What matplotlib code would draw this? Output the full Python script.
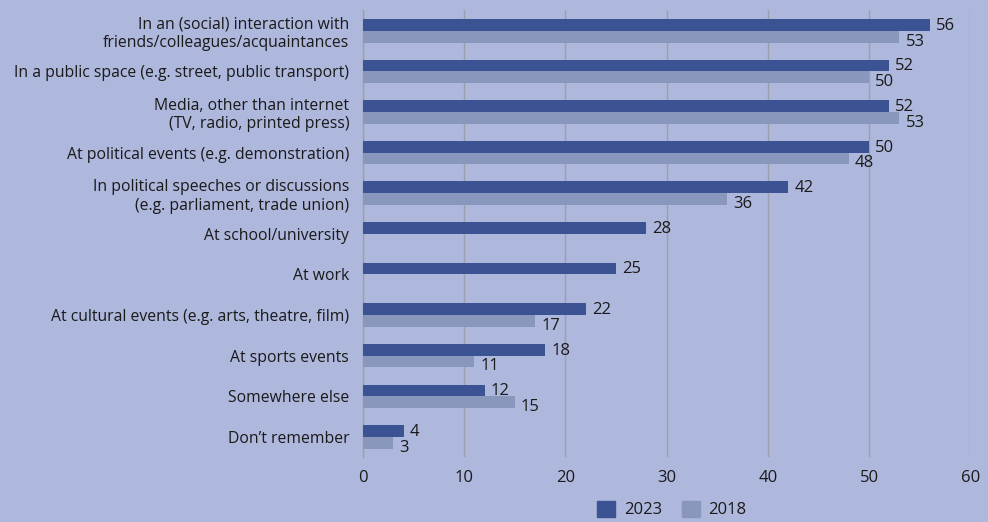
import numpy as np
import matplotlib.pyplot as plt
from matplotlib.patches import Patch

plt.rcParams['font.family'] = ['Open Sans', 'DejaVu Sans']

categories = [
    'In an (social) interaction with\nfriends/colleagues/acquaintances',
    'In a public space (e.g. street, public transport)',
    'Media, other than internet\n(TV, radio, printed press)',
    'At political events (e.g. demonstration)',
    'In political speeches or discussions\n(e.g. parliament, trade union)',
    'At school/university',
    'At work',
    'At cultural events (e.g. arts, theatre, film)',
    'At sports events',
    'Somewhere else',
    "Don\u2019t remember",
]
vals_2023 = [56, 52, 52, 50, 42, 28, 25, 22, 18, 12, 4]
vals_2018 = [53, 50, 53, 48, 36, None, None, 17, 11, 15, 3]

bg = '#aeb7dc'
c23 = '#3c5393'
c18 = '#8a97bd'
grid = '#9c9fae'
txt = '#1a1a1a'

fig = plt.figure(figsize=(9.88, 5.22), dpi=100, facecolor=bg)
ax = fig.add_axes([0.3675, 0.124, 0.6145, 0.856], facecolor=bg)

y = np.arange(len(categories))
h = 0.29
ax.barh(y - h / 2, vals_2023, height=h, color=c23, zorder=3)
for i, v in enumerate(vals_2023):
    ax.text(v + 0.6, i - h / 2 + 0.02, str(v), va='center', ha='left',
            fontsize=12, color=txt, zorder=4)
for i, v in enumerate(vals_2018):
    if v is None:
        continue
    ax.barh(i + h / 2, v, height=h, color=c18, zorder=3)
    ax.text(v + 0.6, i + h / 2 + 0.12, str(v), va='center', ha='left',
            fontsize=12, color=txt, zorder=4)

ax.set_xlim(0, 60)
ax.set_ylim(len(categories) - 0.5, -0.5)
ax.set_xticks(range(0, 61, 10))
ax.set_yticks(y)
ax.set_yticklabels(categories, fontsize=11.3, color=txt, linespacing=1.2)
ax.tick_params(axis='x', length=0, pad=9, labelsize=12, labelcolor=txt)
ax.tick_params(axis='y', length=0, pad=10)
ax.grid(axis='x', color=grid, linewidth=1.0, zorder=0)
for s in ['top', 'right', 'bottom']:
    ax.spines[s].set_visible(False)
ax.spines['left'].set_color(grid)
ax.spines['left'].set_linewidth(1.0)

handles = [Patch(color=c23, label='2023'), Patch(color=c18, label='2018')]
fig.legend(handles=handles, loc='lower center', bbox_to_anchor=(0.68, -0.022),
           ncol=2, frameon=False, fontsize=12, handlelength=1.1, handleheight=1.1,
           columnspacing=1.2, handletextpad=0.5, labelcolor=txt)

fig.savefig('out.png', dpi=100, facecolor=bg)
